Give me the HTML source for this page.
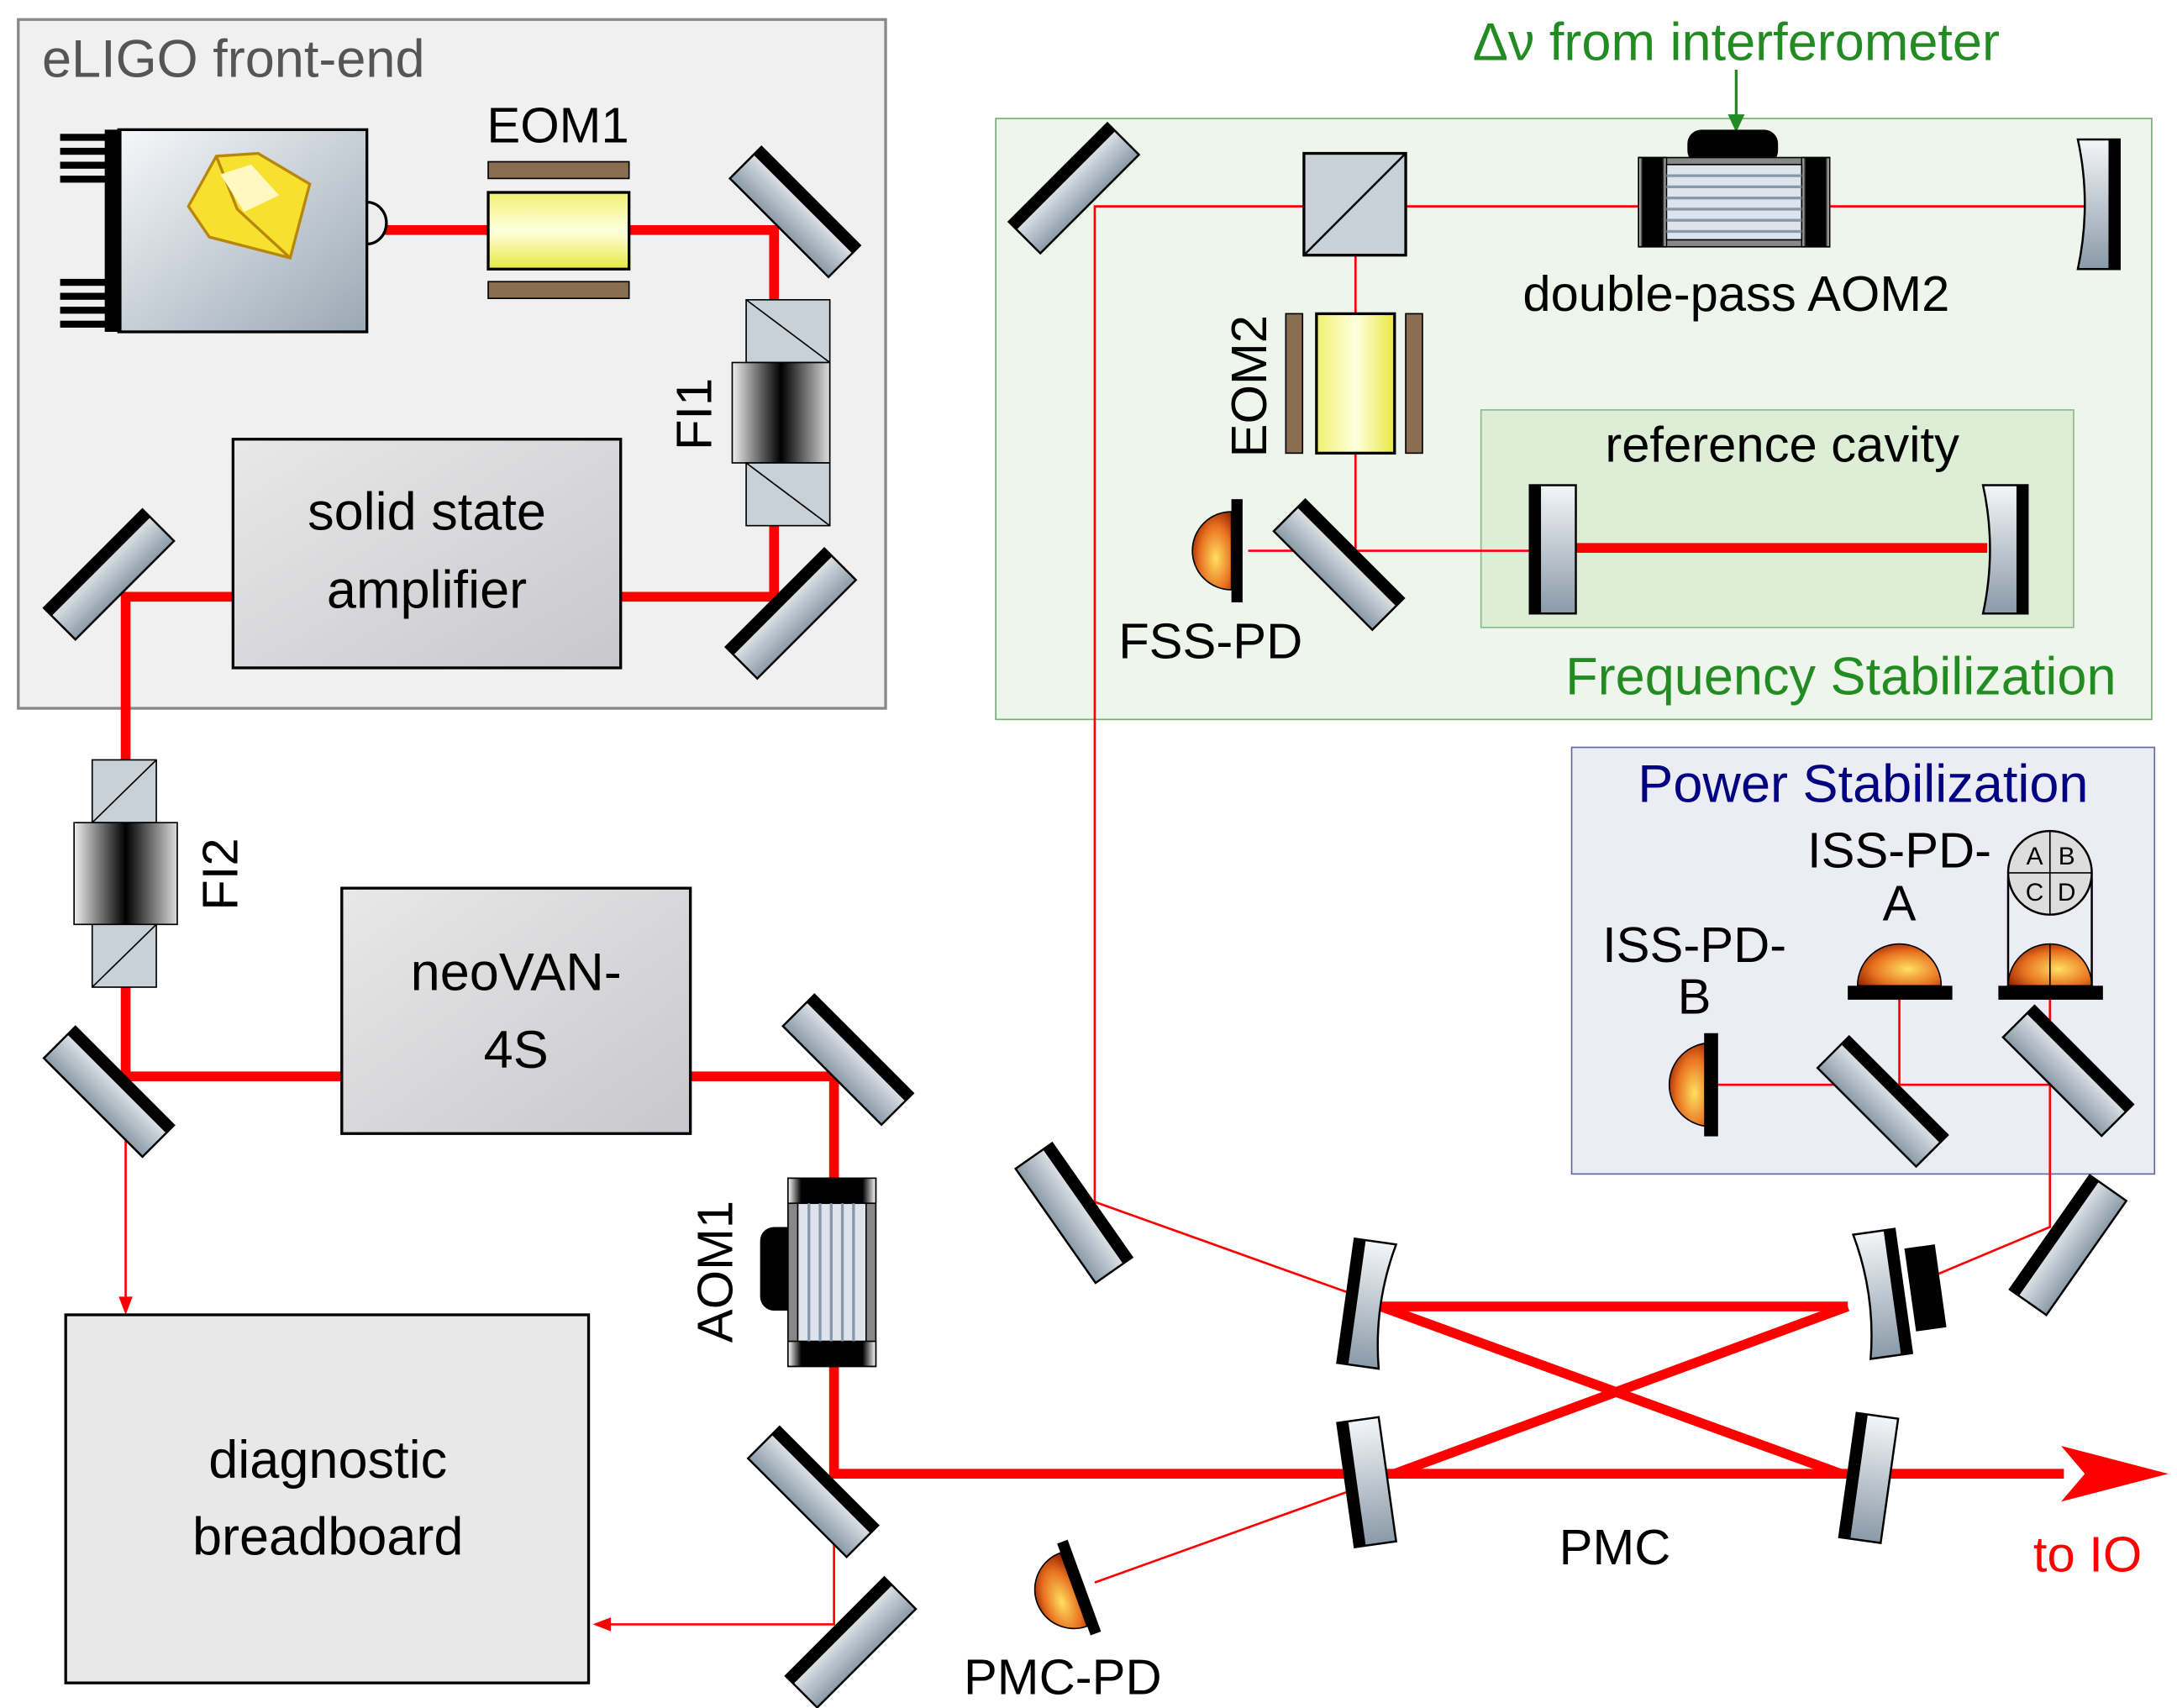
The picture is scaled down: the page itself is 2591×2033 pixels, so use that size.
<!DOCTYPE html>
<html><head><meta charset="utf-8"><style>html,body{margin:0;padding:0;background:#fff}svg{display:block}</style></head>
<body>
<svg width="2591" height="2033" viewBox="0 0 1561 1225" xmlns="http://www.w3.org/2000/svg" font-family="Liberation Sans, DejaVu Sans, sans-serif">
<defs>
<linearGradient id="mg" x1="0" y1="0" x2="0" y2="1"><stop offset="0" stop-color="#f4f6f8"/><stop offset="1" stop-color="#8a9aa8"/></linearGradient>
<linearGradient id="bx" x1="0" y1="0" x2="1" y2="1"><stop offset="0" stop-color="#e8e8e8"/><stop offset="1" stop-color="#c8c8cc"/></linearGradient>
<linearGradient id="las" x1="0" y1="0" x2="1" y2="1"><stop offset="0" stop-color="#f6f8fa"/><stop offset="1" stop-color="#9aa8b4"/></linearGradient>
<linearGradient id="yel" x1="0" y1="0" x2="0" y2="1"><stop offset="0" stop-color="#f0f070"/><stop offset="0.5" stop-color="#ffffe0"/><stop offset="1" stop-color="#e8e840"/></linearGradient>
<linearGradient id="yelv" x1="0" y1="0" x2="1" y2="0"><stop offset="0" stop-color="#f0f070"/><stop offset="0.5" stop-color="#ffffe0"/><stop offset="1" stop-color="#e8e840"/></linearGradient>
<linearGradient id="fi" x1="0" y1="0" x2="1" y2="0"><stop offset="0" stop-color="#eee"/><stop offset="0.5" stop-color="#000"/><stop offset="1" stop-color="#ddd"/></linearGradient>
<linearGradient id="aom" x1="0" y1="0" x2="1" y2="0"><stop offset="0" stop-color="#fff"/><stop offset="0.15" stop-color="#000"/><stop offset="0.85" stop-color="#000"/><stop offset="1" stop-color="#fff"/></linearGradient>
<radialGradient id="pd" cx="0.6" cy="0.6" r="0.7"><stop offset="0" stop-color="#ffe060"/><stop offset="0.6" stop-color="#e87020"/><stop offset="1" stop-color="#902000"/></radialGradient>
<g id="mir"><rect x="-50" y="-16" width="100" height="32" fill="url(#mg)" stroke="#000" stroke-width="1.5"/><rect x="-50" y="-16" width="100" height="8" fill="#000"/></g>
</defs>

<rect x="13" y="14" width="622" height="494" fill="#f0f0f0" stroke="#888" stroke-width="2"/>
<text x="30" y="55" font-size="38" fill="#555">eLIGO front-end</text>

<rect x="714" y="85" width="829" height="431" fill="#eef5ea" stroke="#7a7" stroke-width="1"/>
<rect x="1062" y="294" width="425" height="156" fill="#ddeed6" stroke="#8b8" stroke-width="1"/>
<text x="1320" y="498" font-size="38" fill="#228b22" text-anchor="middle">Frequency Stabilization</text>
<text x="1278" y="331" font-size="36" fill="#000" text-anchor="middle">reference cavity</text>
<text x="1245" y="43" font-size="38" fill="#228b22" text-anchor="middle">Δν from interferometer</text>
<line x1="1245" y1="50" x2="1245" y2="85" stroke="#228b22" stroke-width="2"/>
<polygon points="1239,82 1251,82 1245,95" fill="#228b22"/>

<rect x="1127" y="536" width="418" height="306" fill="#ececf5" stroke="#669" stroke-width="1"/>
<text x="1336" y="575" font-size="38" fill="#000080" text-anchor="middle">Power Stabilization</text>

<g stroke="#f00" stroke-width="1.6" fill="none">
<polyline points="785,862 785,148 1500,148"/>
<line x1="972" y1="183" x2="972" y2="395"/>
<line x1="895" y1="395" x2="1100" y2="395"/>
<line x1="785" y1="862" x2="975" y2="930"/>
<polyline points="1370,922 1470,880 1470,778 1227,778"/>
<line x1="1362" y1="712" x2="1362" y2="778"/>
<line x1="1470" y1="712" x2="1470" y2="778"/>
<line x1="980" y1="1065" x2="785" y2="1135"/>
<line x1="90" y1="783" x2="90" y2="935"/>
<polyline points="598,1080 598,1165 435,1165"/>
</g>
<polygon points="85,930 95,930 90,943" fill="#f00"/>
<polygon points="438,1160 438,1170 425,1165" fill="#f00"/>

<g stroke="#f00" stroke-width="7" fill="none">
<polyline points="276,165 555,165 555,428 90,428 90,772 598,772 598,1057 1480,1057"/>
<line x1="990" y1="937" x2="1325" y2="937"/>
<line x1="990" y1="937" x2="1320" y2="1057"/>
<line x1="1000" y1="1057" x2="1325" y2="937"/>
<line x1="1130" y1="393" x2="1425" y2="393"/>
</g>
<polygon points="1478,1037 1555,1057 1478,1077 1495,1057" fill="#f00"/>
<text x="1497" y="1127" font-size="36" fill="#f00" text-anchor="middle">to IO</text>
<text x="1158" y="1122" font-size="36" text-anchor="middle">PMC</text>

<rect x="85" y="93" width="178" height="145" fill="url(#las)" stroke="#000" stroke-width="2"/>
<rect x="75" y="93" width="12" height="145" fill="#000"/>
<g fill="#000"><rect x="43" y="96" width="35" height="5"/><rect x="43" y="106" width="35" height="5"/><rect x="43" y="116" width="35" height="5"/><rect x="43" y="126" width="35" height="5"/><rect x="43" y="200" width="35" height="5"/><rect x="43" y="210" width="35" height="5"/><rect x="43" y="220" width="35" height="5"/><rect x="43" y="230" width="35" height="5"/></g>
<path d="M263,145 A14,15 0 0 1 263,175 Z" fill="#eee" stroke="#000" stroke-width="2"/>
<polygon points="135,148 155,112 185,110 222,132 208,185 150,170" fill="#f8e030" stroke="#b8860b" stroke-width="2"/>
<polyline points="155,112 170,150 208,185 M170,150 150,170" fill="none" stroke="#b8860b" stroke-width="2"/>
<polygon points="158,125 180,118 200,140 175,152" fill="#fff8c0"/>

<text x="400" y="102" font-size="36" text-anchor="middle">EOM1</text>
<rect x="350" y="116" width="101" height="12" fill="#8b6e50" stroke="#000"/>
<rect x="350" y="202" width="101" height="12" fill="#8b6e50" stroke="#000"/>
<rect x="350" y="138" width="101" height="55" fill="url(#yel)" stroke="#000" stroke-width="2"/>

<use href="#mir" transform="translate(570,152) rotate(45)"/>
<use href="#mir" transform="translate(567,440) rotate(-45)"/>
<use href="#mir" transform="translate(78,412) rotate(-45)"/>
<use href="#mir" transform="translate(78,783) rotate(45)"/>
<use href="#mir" transform="translate(608,760) rotate(45)"/>
<use href="#mir" transform="translate(583,1070) rotate(45)"/>
<use href="#mir" transform="translate(610,1178) rotate(-45)"/>
<use href="#mir" transform="translate(770,870) rotate(55)"/>
<use href="#mir" transform="translate(770,135) rotate(-45)"/>
<use href="#mir" transform="translate(960,405) rotate(45)"/>
<use href="#mir" transform="translate(1350,790) rotate(45)"/>
<use href="#mir" transform="translate(1483,768) rotate(45)"/>
<use href="#mir" transform="translate(1483,893) rotate(-55)"/>

<rect x="535" y="215" width="60" height="45" fill="#c8d0d8" stroke="#000"/><line x1="535" y1="215" x2="595" y2="260" stroke="#000"/>
<rect x="525" y="260" width="70" height="72" fill="url(#fi)" stroke="#000"/>
<rect x="535" y="332" width="60" height="45" fill="#c8d0d8" stroke="#000"/><line x1="535" y1="332" x2="595" y2="377" stroke="#000"/>
<text transform="translate(510,297) rotate(-90)" font-size="36" text-anchor="middle">FI1</text>

<rect x="167" y="315" width="278" height="164" fill="url(#bx)" stroke="#000" stroke-width="2"/>
<text x="306" y="380" font-size="38" text-anchor="middle">solid state</text>
<text x="306" y="436" font-size="38" text-anchor="middle">amplifier</text>

<rect x="66" y="545" width="46" height="45" fill="#c8d0d8" stroke="#000"/><line x1="66" y1="590" x2="112" y2="545" stroke="#000"/>
<rect x="53" y="590" width="74" height="73" fill="url(#fi)" stroke="#000"/>
<rect x="66" y="663" width="46" height="45" fill="#c8d0d8" stroke="#000"/><line x1="66" y1="708" x2="112" y2="663" stroke="#000"/>
<text transform="translate(170,627) rotate(-90)" font-size="36" text-anchor="middle">FI2</text>

<rect x="245" y="637" width="250" height="176" fill="url(#bx)" stroke="#000" stroke-width="2"/>
<text x="370" y="710" font-size="38" text-anchor="middle">neoVAN-</text>
<text x="370" y="766" font-size="38" text-anchor="middle">4S</text>

<rect x="545" y="880" width="30" height="60" rx="10" fill="#000"/>
<rect x="565" y="845" width="63" height="135" fill="#888" stroke="#000"/>
<rect x="565" y="845" width="63" height="18" fill="url(#aom)" stroke="#000"/>
<rect x="565" y="962" width="63" height="18" fill="url(#aom)" stroke="#000"/>
<rect x="572" y="863" width="49" height="99" fill="#dde4ec" stroke="#000"/>
<g stroke="#8898a8" stroke-width="2"><line x1="580" y1="863" x2="580" y2="962"/><line x1="588" y1="863" x2="588" y2="962"/><line x1="596" y1="863" x2="596" y2="962"/><line x1="604" y1="863" x2="604" y2="962"/><line x1="612" y1="863" x2="612" y2="962"/></g>
<text transform="translate(525,912) rotate(-90)" font-size="36" text-anchor="middle">AOM1</text>

<rect x="47" y="943" width="375" height="264" fill="#e8e8e8" stroke="#000" stroke-width="2"/>
<text x="235" y="1060" font-size="38" text-anchor="middle">diagnostic</text>
<text x="235" y="1115" font-size="38" text-anchor="middle">breadboard</text>

<g transform="translate(980,935) rotate(8)"><path d="M-15,-45 L15,-45 Q5,0 15,45 L-15,45 Z" fill="url(#mg)" stroke="#000" stroke-width="1.5"/><rect x="-15" y="-45" width="8" height="90" fill="#000"/></g>
<g transform="translate(1350,928) rotate(-8)"><rect x="20" y="-30" width="22" height="60" fill="#000"/><path d="M-15,-45 L15,-45 L15,45 L-15,45 Q-5,0 -15,-45 Z" fill="url(#mg)" stroke="#000" stroke-width="1.5"/><rect x="7" y="-45" width="8" height="90" fill="#000"/></g>
<g transform="translate(980,1063) rotate(-8)"><rect x="-15" y="-45" width="30" height="90" fill="url(#mg)" stroke="#000" stroke-width="1.5"/><rect x="-15" y="-45" width="8" height="90" fill="#000"/></g>
<g transform="translate(1340,1060) rotate(8)"><rect x="-15" y="-45" width="30" height="90" fill="url(#mg)" stroke="#000" stroke-width="1.5"/><rect x="-15" y="-45" width="8" height="90" fill="#000"/></g>

<g transform="translate(770,1140) rotate(-20)"><path d="M0,-28 A28,28 0 0 0 0,28 Z" fill="url(#pd)" stroke="#000"/><rect x="0" y="-35" width="8" height="70" fill="#000"/></g>
<text x="762" y="1215" font-size="36" text-anchor="middle">PMC-PD</text>

<rect x="935" y="110" width="73" height="73" fill="#c8d0d8" stroke="#000" stroke-width="2"/><line x1="935" y1="183" x2="1008" y2="110" stroke="#000" stroke-width="1.5"/>
<rect x="1210" y="93" width="65" height="25" rx="10" fill="#000"/>
<rect x="1175" y="113" width="137" height="64" fill="#888" stroke="#000"/>
<rect x="1175" y="113" width="20" height="64" fill="url(#aom)" stroke="#000"/>
<rect x="1292" y="113" width="20" height="64" fill="url(#aom)" stroke="#000"/>
<rect x="1195" y="118" width="97" height="54" fill="#dde4ec" stroke="#000"/>
<g stroke="#8898a8" stroke-width="2"><line x1="1195" y1="126" x2="1292" y2="126"/><line x1="1195" y1="134" x2="1292" y2="134"/><line x1="1195" y1="142" x2="1292" y2="142"/><line x1="1195" y1="150" x2="1292" y2="150"/><line x1="1195" y1="158" x2="1292" y2="158"/><line x1="1195" y1="166" x2="1292" y2="166"/></g>
<text x="1245" y="223" font-size="36" text-anchor="middle">double-pass AOM2</text>
<path d="M1490,100 L1520,100 L1520,193 L1490,193 Q1500,146 1490,100 Z" fill="url(#mg)" stroke="#000" stroke-width="1.5"/><rect x="1512" y="100" width="8" height="93" fill="#000"/>
<rect x="922" y="225" width="12" height="100" fill="#8b6e50" stroke="#000"/>
<rect x="1008" y="225" width="12" height="100" fill="#8b6e50" stroke="#000"/>
<rect x="944" y="225" width="56" height="100" fill="url(#yelv)" stroke="#000" stroke-width="2"/>
<text transform="translate(908,277) rotate(-90)" font-size="36" text-anchor="middle">EOM2</text>
<path d="M883,367 A28,28 0 0 0 883,423 Z" fill="url(#pd)" stroke="#000"/><rect x="883" y="358" width="8" height="74" fill="#000"/>
<text x="868" y="472" font-size="36" text-anchor="middle">FSS-PD</text>
<rect x="1097" y="348" width="33" height="92" fill="url(#mg)" stroke="#000" stroke-width="1.5"/><rect x="1097" y="348" width="8" height="92" fill="#000"/>
<path d="M1422,348 L1454,348 L1454,440 L1422,440 Q1432,394 1422,348 Z" fill="url(#mg)" stroke="#000" stroke-width="1.5"/><rect x="1446" y="348" width="8" height="92" fill="#000"/>

<text x="1362" y="622" font-size="36" text-anchor="middle">ISS-PD-</text>
<text x="1362" y="660" font-size="36" text-anchor="middle">A</text>
<text x="1215" y="690" font-size="36" text-anchor="middle">ISS-PD-</text>
<text x="1215" y="727" font-size="36" text-anchor="middle">B</text>
<path d="M1332,707 A30,30 0 0 1 1392,707 Z" fill="url(#pd)" stroke="#000"/><rect x="1325" y="707" width="75" height="10" fill="#000"/>
<path d="M1440,707 A30,30 0 0 1 1500,707 Z" fill="url(#pd)" stroke="#000"/><line x1="1470" y1="677" x2="1470" y2="707" stroke="#000"/><rect x="1433" y="707" width="75" height="10" fill="#000"/>
<path d="M1440,707 L1440,630 A30,30 0 0 1 1500,630 L1500,707" fill="none" stroke="#000" stroke-width="1.5"/>
<circle cx="1470" cy="626" r="30" fill="#ddd" stroke="#000" stroke-width="1.5"/>
<line x1="1440" y1="626" x2="1500" y2="626" stroke="#000"/><line x1="1470" y1="596" x2="1470" y2="656" stroke="#000"/>
<g font-size="18" text-anchor="middle"><text x="1459" y="620">A</text><text x="1482" y="620">B</text><text x="1459" y="646">C</text><text x="1482" y="646">D</text></g>
<path d="M1227,748 A30,30 0 0 0 1227,808 Z" fill="url(#pd)" stroke="#000"/><rect x="1222" y="741" width="10" height="74" fill="#000"/>
</svg>
</body></html>
